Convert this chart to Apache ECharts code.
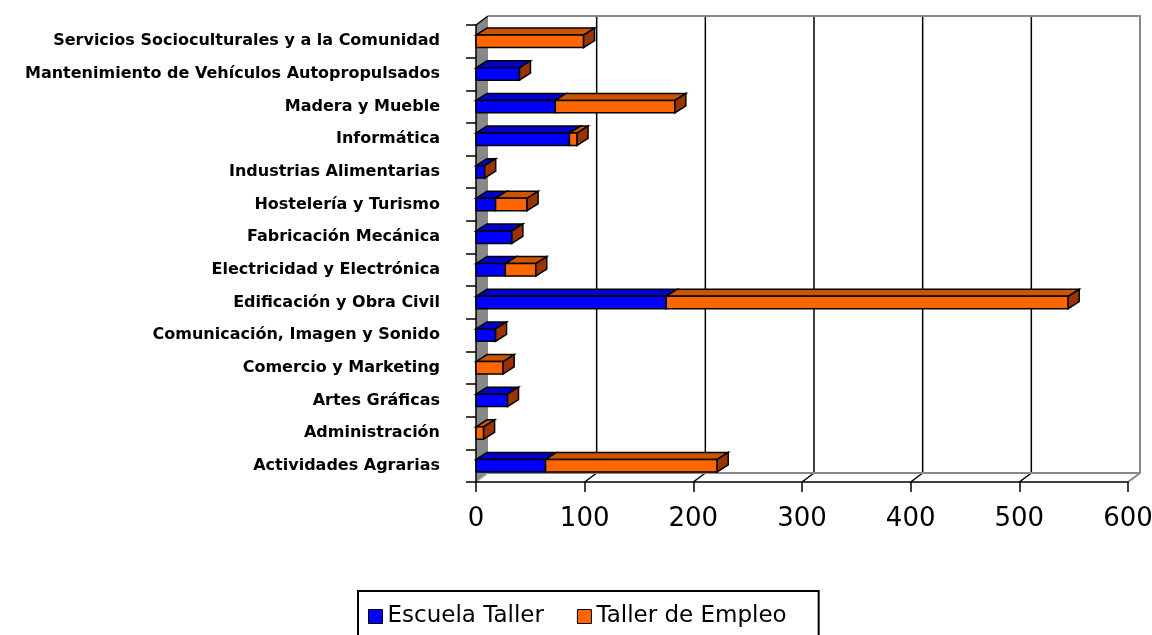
<!DOCTYPE html>
<html>
<head>
<meta charset="utf-8">
<script src="https://cdn.jsdelivr.net/npm/echarts@6/dist/echarts.min.js"></script>
<style>
  html, body { margin: 0; padding: 0; background: #fff; }
  #main { width: 1152px; height: 635px; }
</style>
</head>
<body>
<div id="main"></div>
<script>
// categories from bottom to top
var categories = [
  'Actividades Agrarias',
  'Administración',
  'Artes Gráficas',
  'Comercio y Marketing',
  'Comunicación, Imagen y Sonido',
  'Edificación y Obra Civil',
  'Electricidad y Electrónica',
  'Fabricación Mecánica',
  'Hostelería y Turismo',
  'Industrias Alimentarias',
  'Informática',
  'Madera y Mueble',
  'Mantenimiento de Vehículos Autopropulsados',
  'Servicios Socioculturales y a la Comunidad'
];
var escuelaTaller = [64, 0, 29, 0, 18, 175, 27, 33, 18, 8, 86, 73, 40, 0];
var tallerEmpleo = [158, 7, 0, 25, 0, 370, 28, 0, 29, 0, 7, 110, 0, 99];
var xTicks = [0, 100, 200, 300, 400, 500, 600];

var chart = echarts.init(document.getElementById('main'));

// 3D depth of the walls and of the bars
var WALL_DX = 12, WALL_DY = -9;
var BAR_DX = 11, BAR_DY = -7;
var GREY = '#888888';

function rows() {
  return categories.map(function (c, i) {
    return [i, escuelaTaller[i], tallerEmpleo[i]];
  });
}

function barPiece(api, cat, from, to, front, top, withSide) {
  if (to <= from) return null;
  var p0 = api.coord([from, cat]);
  var p1 = api.coord([to, cat]);
  var h = api.size([0, 1])[1] * 0.38;
  var yT = p0[1] - h / 2, yB = p0[1] + h / 2;
  var x0 = p0[0], x1 = p1[0];
  var line = { stroke: '#000', lineWidth: 1.5 };
  var kids = [
    { type: 'polygon', shape: { points: [[x0, yT], [x0 + BAR_DX, yT + BAR_DY], [x1 + BAR_DX, yT + BAR_DY], [x1, yT]] },
      style: Object.assign({ fill: top }, line) },
    { type: 'rect', shape: { x: x0, y: yT, width: x1 - x0, height: h },
      style: Object.assign({ fill: front }, line) }
  ];
  if (withSide) {
    kids.push({ type: 'polygon', shape: { points: [[x1, yT], [x1 + BAR_DX, yT + BAR_DY], [x1 + BAR_DX, yB + BAR_DY], [x1, yB]] },
      style: Object.assign({ fill: '#993300' }, line) });
  }
  return { type: 'group', children: kids };
}

function renderFrame(params, api) {
  var cs = params.coordSys;
  var L = cs.x, T = cs.y, R = cs.x + cs.width, B = cs.y + cs.height;
  var kids = [];
  // back wall grid lines + floor ticks
  xTicks.forEach(function (v) {
    var x = api.coord([v, 0])[0];
    if (v !== xTicks[0] && v !== xTicks[xTicks.length - 1]) {
      kids.push({ type: 'line', shape: { x1: x + WALL_DX, y1: T + WALL_DY, x2: x + WALL_DX, y2: B + WALL_DY },
        style: { stroke: '#000', lineWidth: 1.5 } });
      kids.push({ type: 'line', shape: { x1: x, y1: B, x2: x + WALL_DX, y2: B + WALL_DY },
        style: { stroke: '#000', lineWidth: 1.5 } });
    }
  });
  // back wall and floor borders
  kids.push({ type: 'polyline', shape: { points: [[L + WALL_DX, T + WALL_DY], [R + WALL_DX, T + WALL_DY], [R + WALL_DX, B + WALL_DY], [R, B]] },
    style: { stroke: GREY, lineWidth: 2, fill: null } });
  kids.push({ type: 'line', shape: { x1: L + WALL_DX, y1: B + WALL_DY, x2: R + WALL_DX, y2: B + WALL_DY },
    style: { stroke: GREY, lineWidth: 2 } });
  // left wall
  kids.push({ type: 'polygon', shape: { points: [[L, T], [L + WALL_DX, T + WALL_DY], [L + WALL_DX, B + WALL_DY], [L, B]] },
    style: { fill: GREY, stroke: null } });
  kids.push({ type: 'line', shape: { x1: L, y1: T, x2: L + WALL_DX, y2: T + WALL_DY },
    style: { stroke: '#000', lineWidth: 1.5 } });
  kids.push({ type: 'line', shape: { x1: L, y1: B, x2: L + WALL_DX, y2: B + WALL_DY },
    style: { stroke: '#aaaaaa', lineWidth: 1.5 } });
  return { type: 'group', children: kids };
}

var option = {
  backgroundColor: '#fff',
  animation: false,
  grid: { left: 476, right: 24, top: 25, bottom: 153, outerBoundsMode: 'none', containLabel: false },
  xAxis: {
    type: 'value', min: 0, max: 600, interval: 100, z: 3,
    axisLine: { show: true, lineStyle: { color: '#000', width: 1.5 } },
    axisTick: { show: true, length: 10, lineStyle: { color: '#000', width: 1.5 } },
    axisLabel: { color: '#000', fontSize: 26, margin: 24, fontFamily: '"DejaVu Sans", sans-serif' },
    splitLine: { show: false }
  },
  yAxis: {
    type: 'category', data: categories, z: 3,
    axisLine: { show: true, lineStyle: { color: '#000', width: 1.5 } },
    axisTick: { show: true, length: 10, lineStyle: { color: '#000', width: 1.5 } },
    axisLabel: { color: '#000', fontSize: 16, fontWeight: 'bold', margin: 36, fontFamily: '"DejaVu Sans", sans-serif' },
    splitLine: { show: false }
  },
  legend: {
    left: 358, top: 591,
    data: [
      { name: 'Escuela Taller', itemStyle: { color: '#0000FF', borderColor: '#000', borderWidth: 1 } },
      { name: 'Taller de Empleo', itemStyle: { color: '#FF6600', borderColor: '#000', borderWidth: 1 } }
    ],
    icon: 'rect', itemWidth: 14, itemHeight: 14, itemGap: 33,
    padding: [14, 32, 30, 10],
    borderColor: '#000', borderWidth: 2, borderRadius: 0,
    textStyle: { color: '#000', fontSize: 23, fontFamily: '"DejaVu Sans", sans-serif' }
  },
  series: [
    {
      name: 'frame', type: 'custom', z: 1, silent: true,
      data: [[0, 0]],
      encode: { x: 1, y: 0 },
      renderItem: renderFrame
    },
    {
      name: 'Escuela Taller', type: 'custom', z: 4,
      itemStyle: { color: '#0000FF' },
      data: rows(), encode: { x: 1, y: 0 },
      renderItem: function (params, api) {
        var i = api.value(0), e = api.value(1), t = api.value(2);
        return barPiece(api, i, 0, e, '#0000FF', '#0000CC', t <= 0);
      }
    },
    {
      name: 'Taller de Empleo', type: 'custom', z: 4,
      itemStyle: { color: '#FF6600' },
      data: rows(), encode: { x: 2, y: 0 },
      renderItem: function (params, api) {
        var i = api.value(0), e = api.value(1), t = api.value(2);
        return barPiece(api, i, e, e + t, '#FF6600', '#CC5500', true);
      }
    }
  ]
};
chart.setOption(option);
</script>
</body>
</html>
